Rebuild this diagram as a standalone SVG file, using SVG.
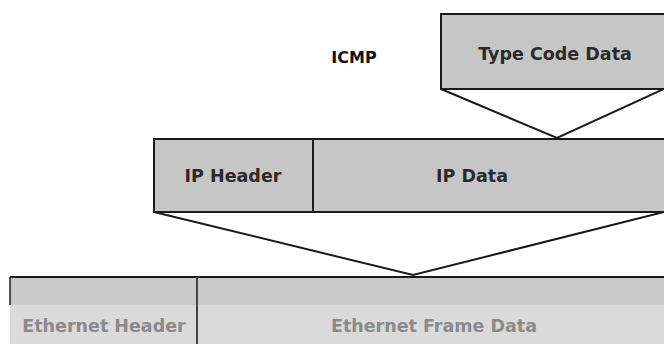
<svg xmlns="http://www.w3.org/2000/svg" width="664" height="344" viewBox="0 0 664 344">
<style>
.box{fill:#c6c6c6;stroke:#1a1a1a;stroke-width:2}
.lbl{font-family:"DejaVu Sans",Verdana,sans-serif;font-weight:bold;font-size:17.5px;fill:#2a2a2a;text-anchor:middle}
.eth{fill:#8a8a8a}
.conn{fill:none;stroke:#1a1a1a;stroke-width:2}
</style>
<rect width="664" height="344" fill="#ffffff"/>
<g id="icmp-label"><text class="lbl" x="354" y="63" font-size="16" fill="#111" style="font-size:16px;fill:#111">ICMP</text></g>
<g id="icmp">
<rect class="box" x="441" y="14" width="230" height="75"/>
<text class="lbl" x="555" y="60">Type Code Data</text>
</g>
<g id="ip">
<rect class="box" x="154" y="139" width="517" height="73"/>
<line x1="313" y1="139" x2="313" y2="212" stroke="#1a1a1a" stroke-width="2"/>
<text class="lbl" x="233" y="182">IP Header</text>
<text class="lbl" x="472" y="182">IP Data</text>
</g>
<g id="ethernet">
<rect x="10" y="277" width="660" height="70" fill="#dadada"/>
<rect x="10" y="277" width="660" height="28" fill="#c9c9c9"/>
<line x1="10" y1="277" x2="670" y2="277" stroke="#1a1a1a" stroke-width="2"/>
<line x1="10" y1="277" x2="10" y2="305" stroke="#1a1a1a" stroke-width="1.5"/>
<line x1="197" y1="277" x2="197" y2="344" stroke="#444" stroke-width="2"/>
<text class="lbl eth" x="104" y="332">Ethernet Header</text>
<text class="lbl eth" x="434" y="332">Ethernet Frame Data</text>
</g>
<g id="connectors">
<polyline class="conn" points="441,89 557,138 664,89"/>
<polyline class="conn" points="154,212 413,275 664,212"/>
</g>
</svg>
